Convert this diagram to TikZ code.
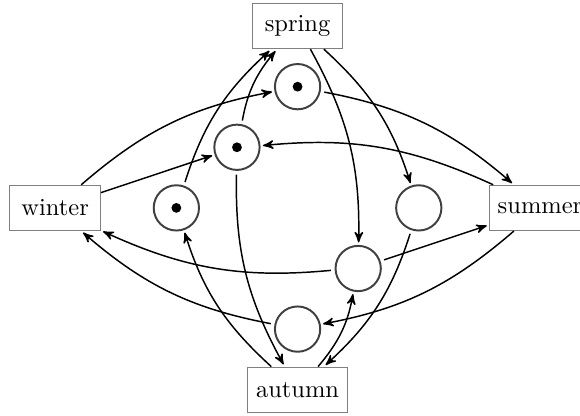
\documentclass[tikz,border=0pt]{standalone}
\usetikzlibrary{arrows,petri}

\begin{document}
\begin{tikzpicture}[x=0.87cm,y=0.87cm,bend angle=15,
	place/.style={circle,thick,draw=black!75,minimum size=6.5mm},
	transition/.style={rectangle,draw=black!50,minimum width=13mm,minimum height=6.5mm},
	every token/.style={fill=black,circle,inner sep=0pt,minimum size=4pt},
	pre/.style={<-,shorten <=1pt,>=stealth',semithick},
	post/.style={->,shorten <=1.5pt,shorten >=1pt,>=stealth',semithick}]
\useasboundingbox (-4.91,-3.43) rectangle (4.66,3.43);

% the four seasons
\node[transition] (spring) at (0,3) {spring};
\node[transition] (winter) at (-4,0) {winter};
\node[transition] (summer) at (4,0) {summer};
\node[transition] (autumn) at (0,-3) {autumn};

% places with their arcs
\node[place,tokens=1] (p1) at (0,2) {}
	edge[pre,bend right] (winter)
	edge[post,bend left] (summer);
\node[place,tokens=1] (p2) at (-1,1) {}
	edge[pre] (winter)
	edge[post,bend left] (spring)
	edge[pre,bend left] (summer)
	edge[post,bend right] (autumn);
\node[place,tokens=1] (p3) at (-2,0) {}
	edge[post,bend left] (spring)
	edge[pre,bend right] (autumn);
\node[place] (p4) at (2,0) {}
	edge[pre,bend right] (spring)
	edge[post,bend left] (autumn);
\node[place] (p5) at (1,-1) {}
	edge[pre,bend right] (spring)
	edge[post] (summer)
	edge[post,bend left] (winter)
	edge[pre,bend left] (autumn);
\node[place] (p6) at (0,-2) {}
	edge[pre,bend right] (summer)
	edge[post,bend left] (winter);
\end{tikzpicture}
\end{document}
